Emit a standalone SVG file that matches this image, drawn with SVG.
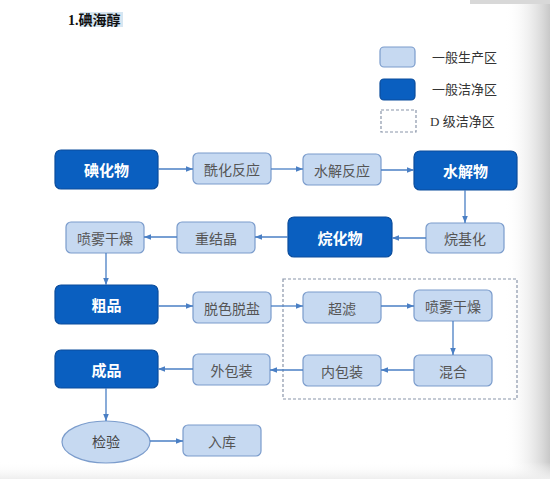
<svg xmlns="http://www.w3.org/2000/svg" width="550" height="479" viewBox="0 0 550 479">
<defs>
<linearGradient id="rshadow" x1="0" y1="0" x2="1" y2="0">
<stop offset="0" stop-color="#ffffff" stop-opacity="0"/>
<stop offset="1" stop-color="#c8c8c8"/>
</linearGradient>
<linearGradient id="bshadow" x1="0" y1="0" x2="0" y2="1">
<stop offset="0" stop-color="#ffffff" stop-opacity="0"/>
<stop offset="1" stop-color="#eeeeee"/>
</linearGradient>
<marker id="ah" viewBox="0 0 10 10" refX="10" refY="5" markerWidth="7" markerHeight="7" orient="auto" markerUnits="userSpaceOnUse">
<path d="M0,1 L10,5 L0,9 z" fill="#4a7fc4"/>
</marker>
</defs>
<style>
.lt{fill:#c6d9f1;stroke:#7b9ccc;stroke-width:1.2}
.dk{fill:#0a5fc0;stroke:#0a4c9c;stroke-width:1.2}
.tl{font-family:"Noto Sans CJK SC","Liberation Sans",sans-serif;font-size:14px;fill:#555;text-anchor:middle;dominant-baseline:central}
.td{font-family:"Noto Sans CJK SC","Liberation Sans",sans-serif;font-size:15px;font-weight:bold;fill:#fff;text-anchor:middle;dominant-baseline:central}
.lg{font-family:"Liberation Serif","Noto Sans CJK SC",serif;font-size:13px;fill:#333;dominant-baseline:central}
.cn line{stroke:#4a7fc4;stroke-width:1.3;marker-end:url(#ah)}
</style>
<rect width="550" height="479" fill="#ffffff"/>
<rect x="505" y="0" width="45" height="479" fill="url(#rshadow)"/>
<rect x="0" y="462" width="550" height="17" fill="url(#bshadow)"/>
<rect x="470" y="0" width="80" height="4" fill="#d8d8d8"/>

<g id="title">
<rect x="80" y="12" width="43" height="15" fill="#d6e6f2"/>
<text x="68" y="20" font-family="Liberation Serif,'Noto Sans CJK SC',serif" font-size="14" font-weight="bold" fill="#111" dominant-baseline="central">1.碘海醇</text>
</g>

<g id="legend">
<rect x="380" y="47" width="35" height="20" rx="4" class="lt"/>
<text x="432" y="57" class="lg">一般生产区</text>
<rect x="380" y="79" width="35" height="21" rx="4" class="dk"/>
<text x="432" y="89" class="lg">一般洁净区</text>
<rect x="381" y="110" width="35" height="22" fill="none" stroke="#8a96aa" stroke-width="1.2" stroke-dasharray="3,2"/>
<text x="430" y="121" class="lg">D 级洁净区</text>
</g>

<g id="d-zone">
<rect x="283" y="279" width="234" height="120" fill="none" stroke="#8a96aa" stroke-width="1.2" stroke-dasharray="3,2"/>
</g>

<g id="n1"><rect x="55" y="150" width="103" height="39" rx="6" class="dk"/><text x="106.5" y="169.5" class="td">碘化物</text></g>
<g id="n2"><rect x="193" y="153" width="78" height="31" rx="5" class="lt"/><text x="232" y="168.5" class="tl">酰化反应</text></g>
<g id="n3"><rect x="303" y="154" width="78" height="31" rx="5" class="lt"/><text x="342" y="169.5" class="tl">水解反应</text></g>
<g id="n4"><rect x="414" y="151" width="103" height="39" rx="6" class="dk"/><text x="465.5" y="170.5" class="td">水解物</text></g>
<g id="n5"><rect x="426" y="223" width="78" height="30" rx="5" class="lt"/><text x="465" y="238" class="tl">烷基化</text></g>
<g id="n6"><rect x="288" y="217" width="104" height="40" rx="6" class="dk"/><text x="340" y="237" class="td">烷化物</text></g>
<g id="n7"><rect x="177" y="222" width="78" height="31" rx="5" class="lt"/><text x="216" y="237.5" class="tl">重结晶</text></g>
<g id="n8"><rect x="66" y="222" width="78" height="31" rx="5" class="lt"/><text x="105" y="237.5" class="tl">喷雾干燥</text></g>
<g id="n9"><rect x="55" y="285" width="103" height="39" rx="6" class="dk"/><text x="106.5" y="304.5" class="td">粗品</text></g>
<g id="n10"><rect x="193" y="292" width="78" height="31" rx="5" class="lt"/><text x="232" y="307.5" class="tl">脱色脱盐</text></g>
<g id="n11"><rect x="303" y="292" width="78" height="31" rx="5" class="lt"/><text x="342" y="307.5" class="tl">超滤</text></g>
<g id="n12"><rect x="414" y="290" width="78" height="31" rx="5" class="lt"/><text x="453" y="305.5" class="tl">喷雾干燥</text></g>
<g id="n13"><rect x="414" y="355" width="78" height="31" rx="5" class="lt"/><text x="453" y="370.5" class="tl">混合</text></g>
<g id="n14"><rect x="303" y="355" width="78" height="31" rx="5" class="lt"/><text x="342" y="370.5" class="tl">内包装</text></g>
<g id="n15"><rect x="193" y="354" width="77" height="31" rx="5" class="lt"/><text x="231.5" y="369.5" class="tl">外包装</text></g>
<g id="n16"><rect x="55" y="350" width="103" height="38" rx="6" class="dk"/><text x="106.5" y="369" class="td">成品</text></g>
<g id="n17"><ellipse cx="106" cy="442" rx="44" ry="21" class="lt"/><text x="106" y="441" class="tl" fill="#444" style="fill:#444">检验</text></g>
<g id="n18"><rect x="183" y="425" width="78" height="31" rx="5" class="lt"/><text x="222" y="440.5" class="tl">入库</text></g>

<g id="connectors" class="cn">
<line x1="158" y1="169" x2="193" y2="169"/>
<line x1="271" y1="169" x2="303" y2="169"/>
<line x1="381" y1="170" x2="414" y2="170"/>
<line x1="465" y1="190" x2="465" y2="223"/>
<line x1="426" y1="238" x2="392" y2="238"/>
<line x1="288" y1="237" x2="255" y2="237"/>
<line x1="177" y1="237" x2="144" y2="237"/>
<line x1="106" y1="253" x2="106" y2="285"/>
<line x1="158" y1="306" x2="193" y2="306"/>
<line x1="271" y1="306" x2="303" y2="306"/>
<line x1="381" y1="306" x2="414" y2="306"/>
<line x1="453" y1="321" x2="453" y2="355"/>
<line x1="414" y1="370" x2="381" y2="370"/>
<line x1="303" y1="370" x2="270" y2="370"/>
<line x1="193" y1="369" x2="158" y2="369"/>
<line x1="106" y1="388" x2="106" y2="421"/>
<line x1="150" y1="441" x2="183" y2="441"/>
</g>
</svg>
